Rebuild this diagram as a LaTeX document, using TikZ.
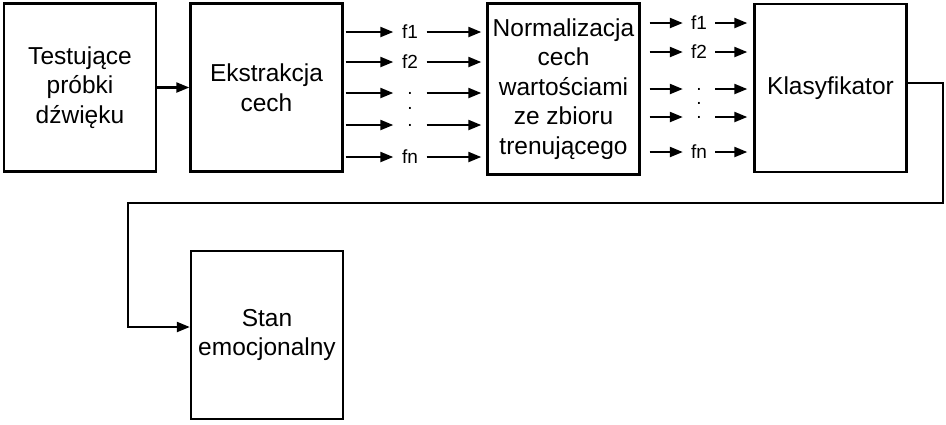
\documentclass[tikz,border=0pt]{standalone}
\usepackage{fontspec}
\setmainfont{Liberation Sans}
\usetikzlibrary{arrows.meta}
\tikzset{
  blok/.style={draw, line width=2.4pt, minimum width=152pt, minimum height=168pt, inner sep=0pt, align=center, font=\fontsize{24.5}{29.5}\selectfont},
  strz/.style={-{Triangle[length=13pt,width=10pt]}, line width=2.2pt},
  cecha/.style={font=\fontsize{19}{20}\selectfont, inner sep=0pt, minimum width=33pt}
}

\begin{document}
\begin{tikzpicture}[x=1pt,y=-1pt]
        \useasboundingbox (0,0) rectangle (946,424);
        % bloki
        \node[blok] (probki) at (80,87.5) {Testujące\\próbki\\dźwięku};
        \node[blok] (ekstr) at (266.5,87.5) {Ekstrakcja\\cech};
        \node[blok, minimum height=171pt] (norm) at (563.5,89) {Normalizacja\\cech\\wartościami\\ze zbioru\\trenującego};
        \node[blok] (klas) at (830.5,88) {Klasyfikator};
        \node[blok] (stan) at (267,335) {Stan\\emocjonalny};
        \draw[strz] (probki) -- (ekstr);
        % cechy po ekstrakcji
        \foreach \y/\t/\n in {32/f1/1, 62/f2/2, 93/./3, 125/./4, 157/fn/5} {
            \node[cecha] (fa\n) at (410,\y) {\t};
            \draw[strz, shorten <=2pt] (ekstr.east |- fa\n) -- (fa\n.west);
            \draw[strz, shorten >=5pt] (fa\n.east) -- (norm.west |- fa\n);
        }
        \node[cecha, minimum width=0pt] (fadot) at (410,108) {.};
        % cechy po normalizacji
        \foreach \y/\t/\n in {23/f1/1, 52/f2/2, 89/./3, 117/./4, 152/fn/5} {
            \node[cecha, minimum width=32pt] (fb\n) at (699,\y) {\t};
            \draw[strz, shorten <=9pt] (norm.east |- fb\n) -- (fb\n.west);
            \draw[strz, shorten >=6pt] (fb\n.east) -- (klas.west |- fb\n);
        }
        \node[cecha, minimum width=0pt] (fbdot) at (699,103) {.};
        % wyjscie klasyfikatora
        \coordinate (wyj1) at (943,83);
        \coordinate (wyj2) at (943,203);
        \coordinate (wyj3) at (128,203);
        \draw[strz] (klas.east |- wyj1) -- (wyj1) -- (wyj2) -- (wyj3) |- ([yshift=8pt]stan.west);
    \end{tikzpicture}
\end{document}
